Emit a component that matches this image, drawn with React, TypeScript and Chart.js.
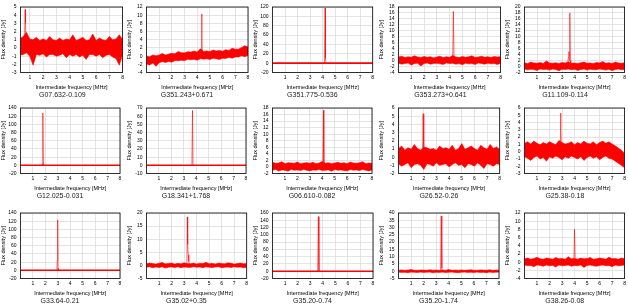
import React, { useEffect, useRef } from "react";
import { Chart, registerables } from "chart.js";
Chart.register(...registerables);

const FONT = '"Liberation Sans", Arial, Helvetica, sans-serif';

// ---------- data ----------
const panelNames = [
  "G07.632-0.109", "G351.243+0.671", "G351.775-0.536", "G353.273+0.641", "G11.109-0.114",
  "G12.025-0.031", "G18.341+1.768", "G06.610-0.082", "G26.52-0.26", "G25.38-0.18",
  "G33.64-0.21", "G35.02+0.35", "G35.20-0.74", "G35.20-1.74", "G38.26-0.08",
];
const yMins = [-3, -4, -20, -4, -2, -20, -10, -2, -2, -3, -20, -5, -20, -5, -4];
const yMaxs = [5, 12, 120, 18, 20, 140, 70, 18, 6, 6, 140, 20, 160, 40, 12];
const ySteps = [1, 2, 20, 2, 2, 20, 10, 2, 1, 1, 20, 5, 20, 5, 2];
const xMins = [0.3, 0, 0, 0, 0, 0, 0, 0, 0, 0, 0, 0, 0, 0, 0];
const xMax = 8;
const xTickValues = [1, 2, 3, 4, 5, 6, 7, 8];

// noise envelope sample frequencies (MHz)
const envFreqs = [0, 0.25, 0.5, 0.75, 1, 1.25, 1.5, 1.75, 2, 2.25, 2.5, 2.75, 3, 3.25, 3.5, 3.75, 4,
  4.25, 4.5, 4.75, 5, 5.25, 5.5, 5.75, 6, 6.25, 6.5, 6.75, 7, 7.25, 7.5, 7.75, 8];

const upper1 = [1.0,1.1,1.4,1.9,1.1,1.0,1.3,0.9,1.1,0.9,1.4,1.0,0.9,1.2,0.9,1.1,1.0,1.6,0.9,1.1,1.3,0.9,1.0,1.7,0.9,1.2,1.0,0.9,1.4,1.0,1.1,1.6,1.0];
const lower1 = [-0.7,-0.9,-0.8,-0.6,-1.0,-2.1,-0.8,-0.9,-0.7,-1.1,-0.8,-0.8,-1.0,-0.9,-0.7,-1.2,-0.8,-1.0,-0.8,-1.1,-0.9,-1.4,-0.8,-0.8,-1.0,-0.8,-1.2,-0.9,-0.8,-1.1,-1.3,-2.1,-0.8];
const upper2 = [0.0,-0.15,0.3,0.1,0.3,0.65,0.25,0.5,0.7,0.55,1.15,0.8,0.8,1.05,1.0,1.25,1.0,1.8,1.15,1.25,1.1,1.5,1.25,1.4,1.2,1.55,1.4,1.9,1.7,1.7,2.1,2.55,2.2];
const lower2 = [-1.9,-2.15,-1.7,-2.5,-1.6,-1.35,-1.55,-1.3,-1.5,-1.05,-1.15,-1.0,-1.1,-0.75,-0.9,-0.75,-1.0,-0.6,-0.75,-0.65,-0.8,-0.5,-0.65,-0.8,-0.5,-0.55,-0.3,-0.5,-0.2,-0.2,0.1,-0.15,0.2];
const upper4 = [1.2,1.5,1.0,1.3,1.1,1.6,1.2,1.0,1.4,1.1,1.3,0.9,1.2,1.5,1.0,1.3,1.1,1.7,1.2,1.0,1.4,1.1,1.3,1.6,1.0,1.2,1.5,1.1,1.3,1.0,1.4,1.2,1.3];
const lower4 = [-0.9,-1.2,-1.0,-0.8,-1.5,-1.0,-0.9,-1.8,-1.0,-0.8,-1.2,-1.0,-0.9,-1.1,-1.3,-0.8,-1.0,-0.9,-1.2,-1.0,-1.4,-0.9,-1.1,-1.0,-1.3,-0.8,-1.0,-1.2,-0.9,-1.1,-1.0,-1.3,-0.9];
const upper5 = [1.3,1.0,1.5,1.2,1.1,1.4,1.0,1.9,1.2,1.1,1.3,1.0,1.4,1.2,1.6,1.1,1.2,1.0,1.3,1.5,1.1,1.2,1.0,1.4,1.2,1.7,1.1,1.3,1.0,1.5,1.2,1.1,1.3];
const lower5 = [-0.8,-1.1,-0.9,-1.0,-1.3,-0.8,-1.0,-0.9,-1.2,-0.8,-1.0,-1.4,-0.9,-1.0,-0.8,-1.1,-0.9,-1.3,-1.0,-0.8,-1.2,-0.9,-1.0,-1.1,-0.8,-1.0,-1.2,-0.9,-1.4,-1.0,-0.8,-1.1,-1.0];
const upper8 = [1.4,1.1,1.2,1.6,1.0,1.3,1.2,1.1,1.5,1.0,1.2,1.3,1.1,1.4,1.0,1.2,1.7,1.1,1.3,1.0,1.2,1.4,1.1,1.3,1.0,1.5,1.2,1.1,1.3,1.6,1.0,1.2,1.1];
const lower8 = [-1.0,-0.8,-1.2,-0.9,-1.0,-1.3,-0.8,-1.0,-0.9,-1.1,-0.8,-1.0,-1.2,-0.9,-1.0,-0.8,-1.1,-1.0,-0.9,-1.3,-0.8,-1.0,-0.9,-1.1,-1.2,-0.8,-1.0,-0.9,-1.1,-0.8,-1.0,-1.2,-0.9];
const upper9 = [1.05,1.35,0.85,1.15,0.95,1.55,1.05,0.85,1.25,1.15,0.95,1.05,0.85,1.35,1.05,1.15,0.95,1.45,0.85,1.05,1.65,0.95,1.15,1.35,1.05,0.85,1.45,1.15,0.95,1.55,1.05,1.25,0.95];
const lower9 = [-0.8,-1.1,-0.9,-0.7,-1.3,-0.9,-0.8,-1.0,-1.5,-0.8,-0.9,-1.1,-0.7,-1.0,-0.9,-0.8,-1.2,-0.9,-0.7,-1.0,-0.9,-1.3,-0.8,-0.9,-1.1,-0.7,-1.0,-1.4,-0.8,-0.9,-1.1,-0.8,-0.9];
const upper10 = [1.15,1.35,1.05,1.45,1.15,0.95,1.25,1.05,1.35,1.15,0.95,1.55,1.25,1.05,1.15,1.35,0.95,1.25,1.05,1.45,1.15,1.05,1.35,0.95,1.25,1.45,1.15,1.35,1.05,0.8,0.5,0.2,-0.3];
const lower10 = [-0.7,-0.9,-1.2,-0.8,-0.6,-1.0,-0.8,-1.3,-0.7,-0.9,-0.6,-0.8,-1.1,-0.7,-0.9,-0.6,-0.8,-1.0,-0.7,-1.2,-0.8,-0.6,-0.9,-0.7,-1.1,-0.8,-0.6,-0.9,-1.0,-1.3,-1.6,-1.9,-2.2];
const upper12 = [0.6,0.9,0.7,0.5,0.8,1.1,0.6,0.7,0.9,0.5,0.8,0.6,1.0,0.7,0.6,0.9,0.5,0.8,0.7,1.2,0.6,0.8,0.5,0.9,0.7,0.6,1.0,0.8,0.5,0.7,0.9,0.6,0.7];
const lower12 = [-0.7,-0.5,-0.9,-0.6,-0.8,-0.5,-1.0,-0.7,-0.6,-0.8,-0.5,-0.9,-0.6,-0.7,-0.8,-0.5,-0.7,-0.6,-0.9,-0.5,-0.7,-0.8,-0.6,-0.5,-0.9,-0.7,-0.6,-0.8,-0.5,-0.7,-0.6,-0.9,-0.7];
const upper14 = [0.7,0.9,0.6,0.8,1.1,0.7,0.6,0.9,0.8,0.6,1.0,0.7,0.8,0.6,0.9,0.7,1.2,0.6,0.8,0.7,0.9,0.6,0.8,1.0,0.7,0.6,0.9,0.8,0.7,1.0,0.6,0.8,0.7];
const lower14 = [-0.6,-0.8,-0.7,-1.0,-0.6,-0.7,-0.9,-0.6,-0.8,-0.7,-0.6,-1.1,-0.7,-0.8,-0.6,-0.9,-0.7,-0.6,-0.8,-1.0,-0.7,-0.6,-0.8,-0.7,-0.9,-0.6,-0.8,-0.7,-1.0,-0.6,-0.8,-0.7,-0.6];
const upper15 = [0.8,1.0,0.7,0.9,1.2,0.8,0.7,1.0,0.9,0.7,1.1,0.8,0.9,0.7,1.3,0.8,0.9,0.7,1.0,0.8,0.9,1.1,0.7,0.8,1.0,0.9,0.7,1.2,0.8,0.9,0.7,1.0,0.8];
const lower15 = [-0.7,-0.9,-0.8,-1.1,-0.7,-0.8,-1.0,-0.7,-0.9,-0.8,-1.2,-0.7,-0.9,-0.8,-0.7,-1.0,-0.8,-0.9,-0.7,-1.3,-0.8,-0.7,-0.9,-1.0,-0.8,-0.7,-0.9,-0.8,-1.1,-0.7,-0.9,-0.8,-0.7];

const upperEnvelopes: (number[] | null)[] = [upper1, upper2, null, upper4, upper5, null, null, upper8, upper9, upper10, null, upper12, null, upper14, upper15];
const lowerEnvelopes: (number[] | null)[] = [lower1, lower2, null, lower4, lower5, null, null, lower8, lower9, lower10, null, lower12, null, lower14, lower15];

// flat baseline for panels where noise is negligible on the scale
const baselineFreqs = [0, 8];
const baselineFlux = [0, 0];

// maser line profiles
const lineFreqs: number[][] = [
  [0.6, 0.65, 0.68, 0.72],
  [4.3, 4.35, 4.37, 4.4],
  [4.15, 4.2, 4.23, 4.28],
  [4.25, 4.3, 4.35],
  [3.45, 3.5, 3.55, 3.58, 3.62, 3.66, 3.7],
  [1.72, 1.76, 1.79, 1.8, 1.84],
  [3.65, 3.7, 3.74],
  [4.05, 4.1, 4.13],
  [1.9, 1.95, 2.0],
  [2.85, 2.88, 2.91, 2.95],
  [2.92, 2.96, 2.99, 3.02, 3.06],
  [3.22, 3.26, 3.29, 3.33, 3.38, 3.45],
  [3.6, 3.65, 3.7],
  [3.35, 3.4, 3.45, 3.5],
  [3.95, 4.0, 4.05],
];
const lineFlux: number[][] = [
  [0.5, 4.7, 3.0, 0.5],
  [0.2, 10.3, 3.0, 0.2],
  [0, 118, 10, 0],
  [0.3, 16.5, 0.3],
  [0.5, 3, 5, 2, 18, 2, 0.5],
  [0, 4, 1, 128, 0],
  [0, 67, 0],
  [0.3, 17.3, 0.3],
  [0.3, 5.3, 0.3],
  [0.5, 5.3, 2.6, 0.5],
  [0, 25, 123, 5, 0],
  [0.3, 18.5, 8, 4, 1.5, 0.3],
  [0, 150, 0],
  [0.3, 38, 2, 0.3],
  [0.3, 8, 0.3],
];

// ---------- layout ----------
const cellLefts = [0, 126, 252, 378, 504];
const cellWidths = [126, 126, 126, 126, 124];
const rowTops = [0, 101, 206];
const cellHeight = 99;
const plotRightGaps = [1.3, 4, 5.3, 1.3, 2, 6, 6, 6, 4.3, 2.3, 6, 5.3, 5, 5, 2.5];

const framePlugin = {
  id: "frame",
  afterDatasetsDraw(chart: any) {
    const { ctx, chartArea } = chart;
    ctx.save();
    ctx.strokeStyle = "#000";
    ctx.lineWidth = 0.8;
    ctx.strokeRect(chartArea.left, chartArea.top, chartArea.right - chartArea.left, chartArea.bottom - chartArea.top);
    ctx.restore();
  },
};

function Panel({ index }: { index: number }) {
  const ref = useRef<HTMLCanvasElement>(null);
  useEffect(() => {
    const datasets: any[] = [];
    const up = upperEnvelopes[index];
    const lo = lowerEnvelopes[index];
    if (up && lo) {
      datasets.push({
        data: envFreqs.map((f, i) => ({ x: f, y: up[i] })),
        borderColor: "#ff0000",
        backgroundColor: "#ff0000",
        borderWidth: 0.6,
        pointRadius: 0,
        fill: "+1",
        tension: 0,
      });
      datasets.push({
        data: envFreqs.map((f, i) => ({ x: f, y: lo[i] })),
        borderColor: "#ff0000",
        borderWidth: 0.6,
        pointRadius: 0,
        fill: false,
        tension: 0,
      });
    } else {
      datasets.push({
        data: baselineFreqs.map((f, i) => ({ x: f, y: baselineFlux[i] })),
        borderColor: "#ff0000",
        borderWidth: 1.6,
        pointRadius: 0,
        fill: false,
      });
    }
    datasets.push({
      data: lineFreqs[index].map((f, i) => ({ x: f, y: lineFlux[index][i] })),
      borderColor: "rgba(255,0,0,0.6)",
      borderWidth: 1,
      pointRadius: 0,
      fill: false,
      tension: 0,
    });

    const tickFont = { family: FONT, size: 5 };
    const chart = new Chart(ref.current as HTMLCanvasElement, {
      type: "line",
      data: { datasets },
      plugins: [framePlugin],
      options: {
        responsive: false,
        animation: false,
        devicePixelRatio: 1,
        layout: { padding: { left: 0, right: plotRightGaps[index], top: 1, bottom: 0 } },
        plugins: {
          legend: { display: false },
          tooltip: { enabled: false },
          title: {
            display: true,
            position: "bottom",
            text: panelNames[index],
            color: "#222",
            font: { family: FONT, size: 7, weight: "normal" },
            padding: { top: 0, bottom: 0 },
          },
        },
        scales: {
          x: {
            type: "linear",
            min: xMins[index],
            max: xMax,
            afterBuildTicks: (axis: any) => {
              axis.ticks = xTickValues.map((v) => ({ value: v }));
            },
            ticks: { font: tickFont, color: "#000", padding: 2, maxRotation: 0, autoSkip: false },
            grid: { color: "#d8d8d8", lineWidth: 0.7, drawTicks: false },
            border: { display: false },
            title: {
              display: true,
              text: "Intermediate frequency [MHz]",
              color: "#000",
              font: { family: FONT, size: 5.5 },
              padding: { top: 1.5, bottom: 0 },
            },
          },
          y: {
            type: "linear",
            min: yMins[index],
            max: yMaxs[index],
            afterFit: (axis: any) => {
              axis.width = 20.5;
            },
            ticks: { stepSize: ySteps[index], font: tickFont, color: "#000", padding: 4, autoSkip: false },
            grid: { color: "#d8d8d8", lineWidth: 0.7, drawTicks: false },
            border: { display: false },
            title: {
              display: true,
              text: "Flux density [Jy]",
              color: "#000",
              font: { family: FONT, size: 5.5 },
              padding: { top: 0, bottom: 3 },
            },
          },
        },
      } as any,
    });
    return () => chart.destroy();
  }, [index]);

  const col = index % 5;
  const row = Math.floor(index / 5);
  return (
    <canvas
      ref={ref}
      width={cellWidths[col]}
      height={cellHeight}
      style={{ position: "absolute", left: cellLefts[col], top: rowTops[row], display: "block" }}
    />
  );
}

export default function App() {
  return (
    <div style={{ position: "absolute", left: 0, top: 0, width: 628, height: 305, background: "#fff", overflow: "hidden" }}>
      {panelNames.map((_, i) => (
        <Panel key={i} index={i} />
      ))}
    </div>
  );
}
